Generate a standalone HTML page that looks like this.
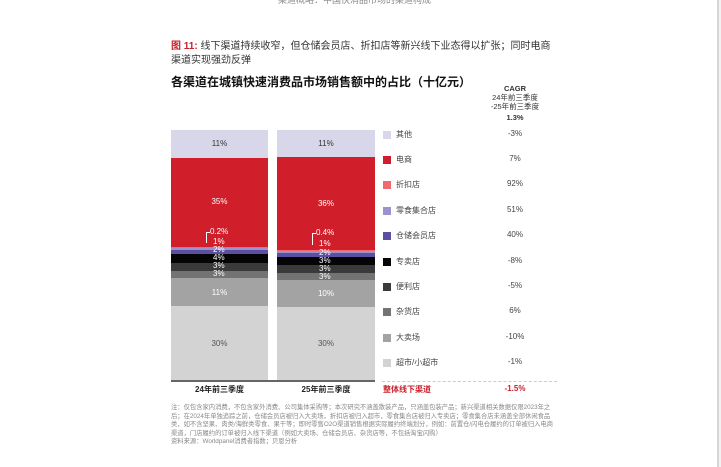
<!DOCTYPE html>
<html><head><meta charset="utf-8"><style>
body{margin:0;width:721px;height:467px;background:#fff;position:relative;overflow:hidden;font-family:"Liberation Sans","Noto Sans CJK SC",sans-serif}
.a{position:absolute;white-space:nowrap}
.s{position:absolute}
.lab{position:absolute;color:#fff;font-size:8px;text-align:center}
.lg{position:absolute;left:383px;width:8px;height:8px}
.lt{position:absolute;left:396px;font-size:8px;color:#444}
.lv{position:absolute;left:470px;width:90px;text-align:center;font-size:8px;color:#444}
</style></head><body>
<div class="a" style="left:278px;top:-7px;font-size:9px;color:#888">渠道概略：中国快消品市场的渠道构成</div>
<div class="s" style="left:717px;top:0;width:2px;height:467px;background:#d6d6d6"></div>
<div class="s" style="left:719px;top:0;width:2px;height:467px;background:#f2f2f2"></div>
<div class="a" style="left:171px;top:40px;font-size:10px;color:#333;line-height:14px"><b style="color:#c8202a">图 11:</b> 线下渠道持续收窄，但仓储会员店、折扣店等新兴线下业态得以扩张；同时电商<br>渠道实现强劲反弹</div>
<div class="a" style="left:171px;top:73px;font-size:12px;font-weight:bold;color:#111">各渠道在城镇快速消费品市场销售额中的占比（十亿元）</div>
<div class="a" style="left:470px;top:84px;width:90px;text-align:center;font-size:7.5px;color:#333;line-height:9px;white-space:normal"><b>CAGR</b><br>24年前三季度<br>-25年前三季度<br><b style="line-height:14px">1.3%</b></div>

<!-- bar1 -->
<div class="s" style="left:171px;top:130px;width:97px;height:28px;background:#d8d7ea"></div>
<div class="s" style="left:171px;top:158px;width:97px;height:89px;background:#d01f2a"></div>
<div class="s" style="left:171px;top:247px;width:97px;height:1px;background:#f06a6e"></div>
<div class="s" style="left:171px;top:248px;width:97px;height:2px;background:#9c93cc"></div>
<div class="s" style="left:171px;top:250px;width:97px;height:4px;background:#5a4fa3"></div>
<div class="s" style="left:171px;top:254px;width:97px;height:9px;background:#050505"></div>
<div class="s" style="left:171px;top:263px;width:97px;height:8px;background:#3a3a3a"></div>
<div class="s" style="left:171px;top:271px;width:97px;height:7px;background:#737373"></div>
<div class="s" style="left:171px;top:278px;width:97px;height:28px;background:#a3a3a3"></div>
<div class="s" style="left:171px;top:306px;width:97px;height:75px;background:#d3d3d3"></div>
<div class="lab" style="left:171px;width:97px;top:139px;color:#333">11%</div>
<div class="lab" style="left:171px;width:97px;top:197px">35%</div>
<div class="lab" style="left:210px;top:227px">0.2%</div>
<div class="lab" style="left:213px;top:237px">1%</div>
<div class="lab" style="left:213px;top:245px">2%</div>
<div class="lab" style="left:213px;top:253px">4%</div>
<div class="lab" style="left:213px;top:261px">3%</div>
<div class="lab" style="left:213px;top:269px">3%</div>
<div class="lab" style="left:171px;width:97px;top:288px">11%</div>
<div class="lab" style="left:171px;width:97px;top:339px;color:#555">30%</div>
<div class="s" style="left:206px;top:232px;width:3px;height:10px;border-left:1px solid #fff;border-top:1px solid #fff"></div>

<!-- bar2 -->
<div class="s" style="left:277px;top:130px;width:98px;height:27px;background:#d8d7ea"></div>
<div class="s" style="left:277px;top:157px;width:98px;height:93px;background:#d01f2a"></div>
<div class="s" style="left:277px;top:250px;width:98px;height:1px;background:#f06a6e"></div>
<div class="s" style="left:277px;top:251px;width:98px;height:2px;background:#9c93cc"></div>
<div class="s" style="left:277px;top:253px;width:98px;height:4px;background:#5a4fa3"></div>
<div class="s" style="left:277px;top:257px;width:98px;height:8px;background:#050505"></div>
<div class="s" style="left:277px;top:265px;width:98px;height:8px;background:#3a3a3a"></div>
<div class="s" style="left:277px;top:273px;width:98px;height:7px;background:#737373"></div>
<div class="s" style="left:277px;top:280px;width:98px;height:27px;background:#a3a3a3"></div>
<div class="s" style="left:277px;top:307px;width:98px;height:74px;background:#d3d3d3"></div>
<div class="lab" style="left:277px;width:98px;top:139px;color:#333">11%</div>
<div class="lab" style="left:277px;width:98px;top:199px">36%</div>
<div class="lab" style="left:316px;top:228px">0.4%</div>
<div class="lab" style="left:319px;top:239px">1%</div>
<div class="lab" style="left:319px;top:248px">2%</div>
<div class="lab" style="left:319px;top:256px">3%</div>
<div class="lab" style="left:319px;top:264px">3%</div>
<div class="lab" style="left:319px;top:272px">3%</div>
<div class="lab" style="left:277px;width:98px;top:289px">10%</div>
<div class="lab" style="left:277px;width:98px;top:339px;color:#555">30%</div>
<div class="s" style="left:312px;top:233px;width:3px;height:11px;border-left:1px solid #fff;border-top:1px solid #fff"></div>

<div class="s" style="left:171px;top:380px;width:204px;height:2px;background:#666"></div>
<div class="a" style="left:171px;top:384px;width:97px;text-align:center;font-size:8px;font-weight:bold;color:#222">24年前三季度</div>
<div class="a" style="left:277px;top:384px;width:98px;text-align:center;font-size:8px;font-weight:bold;color:#222">25年前三季度</div>

<!-- legend -->
<div class="lg" style="top:131px;background:#d8d7ea"></div><div class="lt" style="top:129px">其他</div><div class="lv" style="top:129px">-3%</div>
<div class="lg" style="top:156px;background:#d01f2a"></div><div class="lt" style="top:154px">电商</div><div class="lv" style="top:154px">7%</div>
<div class="lg" style="top:181px;background:#f06a6e"></div><div class="lt" style="top:179px">折扣店</div><div class="lv" style="top:179px">92%</div>
<div class="lg" style="top:207px;background:#9c93cc"></div><div class="lt" style="top:205px">零食集合店</div><div class="lv" style="top:205px">51%</div>
<div class="lg" style="top:232px;background:#5a4fa3"></div><div class="lt" style="top:230px">仓储会员店</div><div class="lv" style="top:230px">40%</div>
<div class="lg" style="top:258px;background:#050505"></div><div class="lt" style="top:256px">专卖店</div><div class="lv" style="top:256px">-8%</div>
<div class="lg" style="top:283px;background:#3a3a3a"></div><div class="lt" style="top:281px">便利店</div><div class="lv" style="top:281px">-5%</div>
<div class="lg" style="top:308px;background:#737373"></div><div class="lt" style="top:306px">杂货店</div><div class="lv" style="top:306px">6%</div>
<div class="lg" style="top:334px;background:#a3a3a3"></div><div class="lt" style="top:332px">大卖场</div><div class="lv" style="top:332px">-10%</div>
<div class="lg" style="top:359px;background:#d3d3d3"></div><div class="lt" style="top:357px">超市/小超市</div><div class="lv" style="top:357px">-1%</div>
<div class="s" style="left:382px;top:381px;width:175px;border-top:1px dashed #ccc"></div>
<div class="a" style="left:383px;top:384px;font-size:8px;font-weight:bold;color:#c8202a">整体线下渠道</div>
<div class="a" style="left:470px;top:384px;width:90px;text-align:center;font-size:8px;font-weight:bold;color:#c8202a">-1.5%</div>

<div class="a" style="left:171px;top:404px;width:386px;white-space:normal;font-size:6.3px;line-height:8.6px;color:#888">注：仅包含家内消费，不包含家外消费、公司集体采购等；本次研究不涵盖散装产品，只涵盖包装产品；新兴渠道相关数据仅限2023年之后；在2024年单独追踪之前，仓储会员店被归入大卖场，折扣店被归入超市，零食集合店被归入专卖店；零食集合店未涵盖全部休闲食品类，如不含坚果、肉类/海鲜类零食、果干等；即时零售O2O渠道销售根据实际履约终端划分，例如：前置仓/闪电仓履约的订单被归入电商渠道，门店履约的订单被归入线下渠道（例如大卖场、仓储会员店、杂货店等，不包括淘宝闪购）<br>资料来源：Worldpanel消费者指数；贝恩分析</div>
</body></html>
